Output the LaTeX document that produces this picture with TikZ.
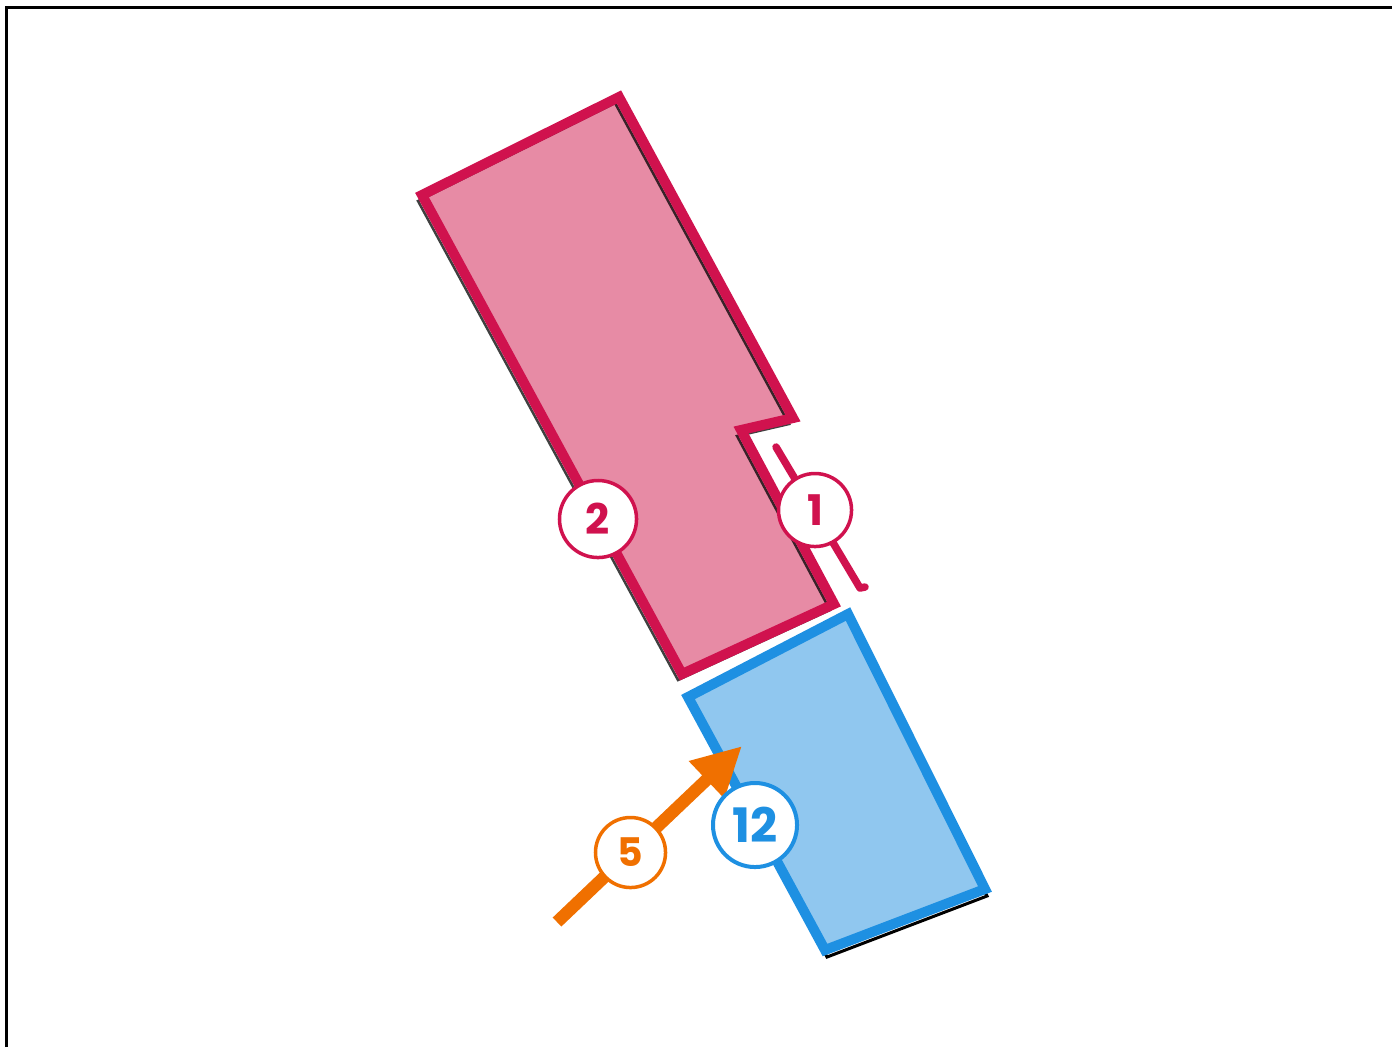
\documentclass[tikz,border=0pt]{standalone}
\usepackage{fontspec}
\setmainfont{Poppins}
\usetikzlibrary{arrows.meta}
\definecolor{rot}{HTML}{D0124E}
\definecolor{rotl}{HTML}{E78BA5}
\definecolor{blau}{HTML}{1E90E2}
\definecolor{blaul}{HTML}{90C7EF}
\definecolor{orng}{HTML}{F07000}
\tikzset{
  rahmen/.style={black,line width=0.025cm},
  schatten/.style={black,line width=0.025cm},
  rand/.style={line width=0.1cm},
  mass/.style={rot,line width=0.075cm,line cap=round,line join=round},
  pfeil/.style={-{Triangle[length=0.49cm,width=0.48cm]},orng,line width=0.125cm},
  marke/.style={circle,fill=white,line width=0.035cm,inner sep=0pt},
}

\begin{document}
\begin{tikzpicture}[x=0.01cm,y=-0.01cm]
  \useasboundingbox (0,0) rectangle (1392,1047);
  \draw[rahmen] (6.5,1047) -- (6.5,7.5) -- (1392,7.5);
  % ===== Fläche 2 (rot) =====
  \fill[rotl] (422,195) -- (619,97) -- (793,418) -- (741,430) -- (834,604) -- (682,674) -- cycle;
  \draw[schatten,opacity=0.75,shift={(-4,6)}] (422,195) -- (619,97) -- (793,418) -- (741,430) -- (834,604) -- (682,674) -- cycle;
  \draw[rand,rot] (422,195) -- (619,97) -- (793,418) -- (741,430) -- (834,604) -- (682,674) -- cycle;
  % ===== Fläche 12 (blau) =====
  \draw[schatten,line width=0.03cm,shift={(2,7)}] (688,697) -- (848,614) -- (985,889) -- (825,950) -- cycle;
  \draw[rand,draw=blau,fill=blaul] (688,697) -- (848,614) -- (985,889) -- (825,950) -- cycle;
  % ===== Maßlinie 1 =====
  \coordinate (d1a) at (776,447);
  \coordinate (d1b) at (860,588);
  \draw[mass] (d1a) -- (d1b) -- ++(5,-1);
  % ===== Pfeil 5 =====
  \coordinate (p5a) at (557,922);
  \coordinate (p5b) at (742,746);
  \draw[pfeil] (p5a) -- (p5b);
  % ===== Marken =====
  \node[marke,draw=rot,text=rot,minimum size=0.73cm,font=\bfseries\fontsize{12}{12}\selectfont] (m1) at (815,510) {1};
  \node[marke,draw=rot,text=rot,minimum size=0.77cm,font=\bfseries\fontsize{12}{12}\selectfont] (m2) at (598,519) {2};
  \node[marke,draw=blau,text=blau,line width=0.04cm,minimum size=0.84cm,font=\bfseries\fontsize{13.5}{13.5}\selectfont] (m12) at (755,825) {12};
  \node[marke,draw=orng,text=orng,minimum size=0.70cm,font=\bfseries\fontsize{11.2}{11.2}\selectfont] (m5) at (630.5,852.5) {5};
\end{tikzpicture}
\end{document}
